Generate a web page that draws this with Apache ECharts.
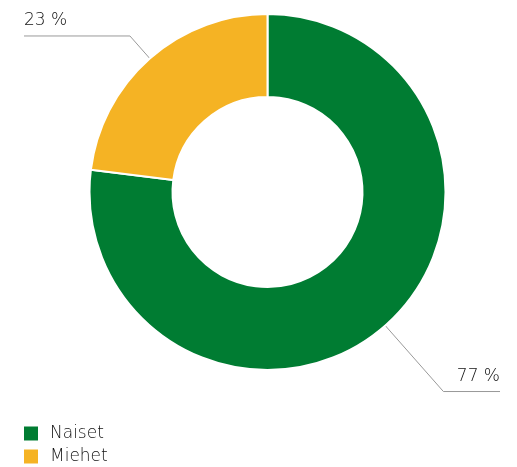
<!DOCTYPE html>
<html>
<head>
<meta charset="utf-8">
<script src="https://cdn.jsdelivr.net/npm/echarts@6/dist/echarts.min.js"></script>
<style>
  html, body { margin: 0; padding: 0; background: #fff; }
  #chart { width: 517px; height: 467px; }
</style>
</head>
<body>
<div id="chart"></div>
<script>
// data
var categories = ["Naiset", "Miehet"];
var values = [77, 23];
var colors = ["#007C32", "#F5B324"];
var lineLengths = [88, 30];
var labelEdges = [17, 24];

var myChart = echarts.init(document.getElementById("chart"));

var seriesData = categories.map(function (name, i) {
  return {
    name: name,
    value: values[i],
    itemStyle: { color: colors[i] },
    label: { edgeDistance: labelEdges[i] },
    labelLine: { length: lineLengths[i], length2: 5 }
  };
});

var textFont = {
  fontFamily: "DejaVu Sans",
  fontWeight: 200,
  fontSize: 17,
  color: "#111"
};

var option = {
  animation: false,
  legend: {
    orient: "vertical",
    left: 24,
    bottom: 2,
    padding: 0,
    itemWidth: 14,
    itemHeight: 14,
    itemGap: 6,
    icon: "rect",
    itemStyle: { borderWidth: 0 },
    textStyle: Object.assign({ lineHeight: 14, padding: [0, 0, 0, 7] }, textFont),
    data: categories
  },
  series: [
    {
      type: "pie",
      center: [267.5, 192],
      radius: [95, 178],
      startAngle: 90,
      clockwise: true,
      itemStyle: { borderColor: "#fff", borderWidth: 2 },
      label: Object.assign({
        formatter: "{c} %",
        alignTo: "edge",
        edgeDistance: 20
      }, textFont),
      labelLine: {
        show: true,
        lineStyle: { color: "#999", width: 1 }
      },
      labelLayout: function (p) {
        var pts = p.labelLinePoints;
        if (!pts) return {};
        var r = p.labelRect;
        var isLeft = pts[2][0] < pts[1][0];
        var endX = isLeft ? r.x : r.x + r.width;
        return {
          dy: -15,
          labelLinePoints: [pts[0], pts[1], [endX, pts[2][1]]]
        };
      },
      emphasis: { disabled: true },
      data: seriesData
    }
  ]
};

myChart.setOption(option);
</script>
</body>
</html>
